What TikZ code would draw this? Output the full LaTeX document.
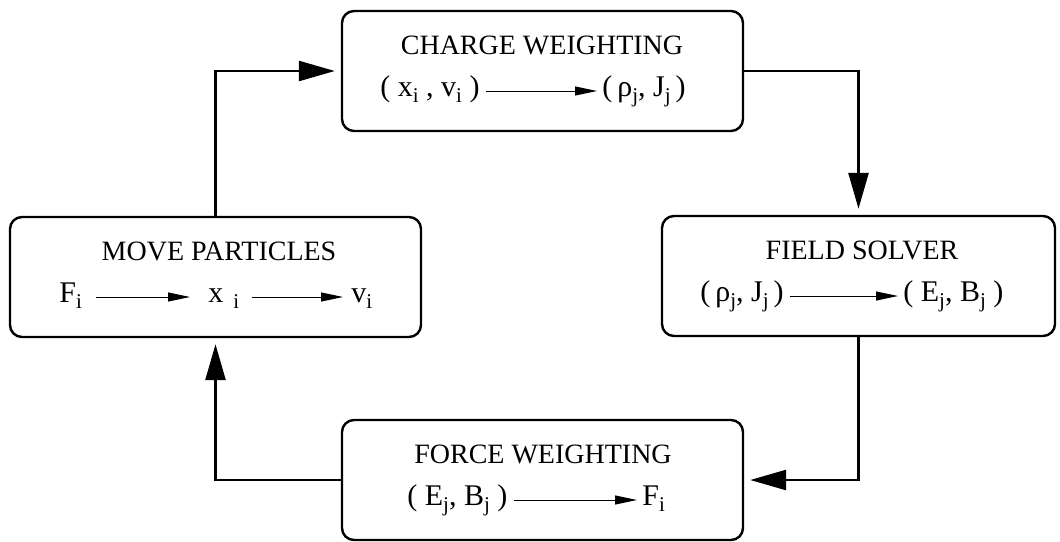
\documentclass[tikz,border=0pt]{standalone}
\usepackage{fontspec}
\setmainfont{Liberation Serif}
\usetikzlibrary{arrows.meta}

% lowered index, set as in the figure (upright, small)
\newcommand{\idx}[1]{\raisebox{-0.5ex}{\fontsize{10.5}{10.5}\selectfont #1}}

\begin{document}
\begin{tikzpicture}[x=0.5pt, y=-0.5pt,
    box/.style={draw, line width=1.2pt, rounded corners=6pt, minimum width=#1,
        minimum height=60pt, inner sep=0pt},
    title/.style={font=\fontsize{14}{16}\selectfont, anchor=base, inner sep=0pt},
    term/.style={font=\fontsize{15}{17}\selectfont, anchor=base west, inner sep=0pt},
    flow/.style={line width=1.3pt, -{Triangle[length=18pt,width=10pt]}, shorten >=3pt},
    map/.style={line width=0.5pt, -{Triangle[length=11pt,width=4.5pt]},
        shorten <=3pt, shorten >=2.5pt}]
    \useasboundingbox (0,0) rectangle (1060,541);

    % the four stages of the cycle
    \node[box=200.5pt] (charge) at (542.5,71) {};
    \node[box=196.5pt] (field) at (858.5,276) {};
    \node[box=200.5pt] (force) at (542.5,480) {};
    \node[box=205.5pt] (move) at (215.5,277) {};

    % titles
    \node[title] (charge-t) at (542,54) {CHARGE WEIGHTING};
    \node[title] (field-t) at (862,259) {FIELD SOLVER};
    \node[title] (force-t) at (543,463) {FORCE WEIGHTING};
    \node[title] (move-t) at (219,260) {MOVE PARTICLES};

    % charge weighting: (x,v) -> (rho,J)
    \node[term] (charge-a) at (380,96) {( x\idx{i} , v\idx{i} )};
    \node[term] (charge-b) at (602,96) {(\,ρ\idx{j}, J\idx{j}\,)};
    \draw[map] ([yshift=2.5pt]charge-a.base east) -- ([yshift=2.5pt]charge-b.base west);

    % field solver: (rho,J) -> (E,B)
    \node[term] (field-a) at (700,301) {(\,ρ\idx{j}, J\idx{j}\,)};
    \node[term] (field-b) at (903,301) {( E\idx{j}, B\idx{j} )};
    \draw[map] ([yshift=2.5pt]field-a.base east) -- ([yshift=2.5pt]field-b.base west);

    % force weighting: (E,B) -> F
    \node[term] (force-a) at (407,505) {( E\idx{j}, B\idx{j} )};
    \node[term] (force-b) at (642,505) {F\idx{i}};
    \draw[map] ([yshift=2.5pt]force-a.base east) -- ([yshift=2.5pt]force-b.base west);

    % move particles: F -> x -> v
    \node[term] (move-a) at (59,302) {F\idx{i}};
    \node[term] (move-b) at (208,302) {x\,\,\idx{i}};
    \node[term] (move-c) at (351,302) {v\idx{i}};
    \draw[map, shorten <=7pt, shorten >=9pt] ([yshift=2.5pt]move-a.base east) -- ([yshift=2.5pt]move-b.base west);
    \draw[map, shorten <=6pt, shorten >=4pt] ([yshift=2.5pt]move-b.base east) -- ([yshift=2.5pt]move-c.base west);

    % the cycle
    \draw[flow] (move) |- (charge);
    \draw[flow] (charge) -| (field);
    \draw[flow] (field) |- (force);
    \draw[flow] (force) -| (move);
\end{tikzpicture}
\end{document}
